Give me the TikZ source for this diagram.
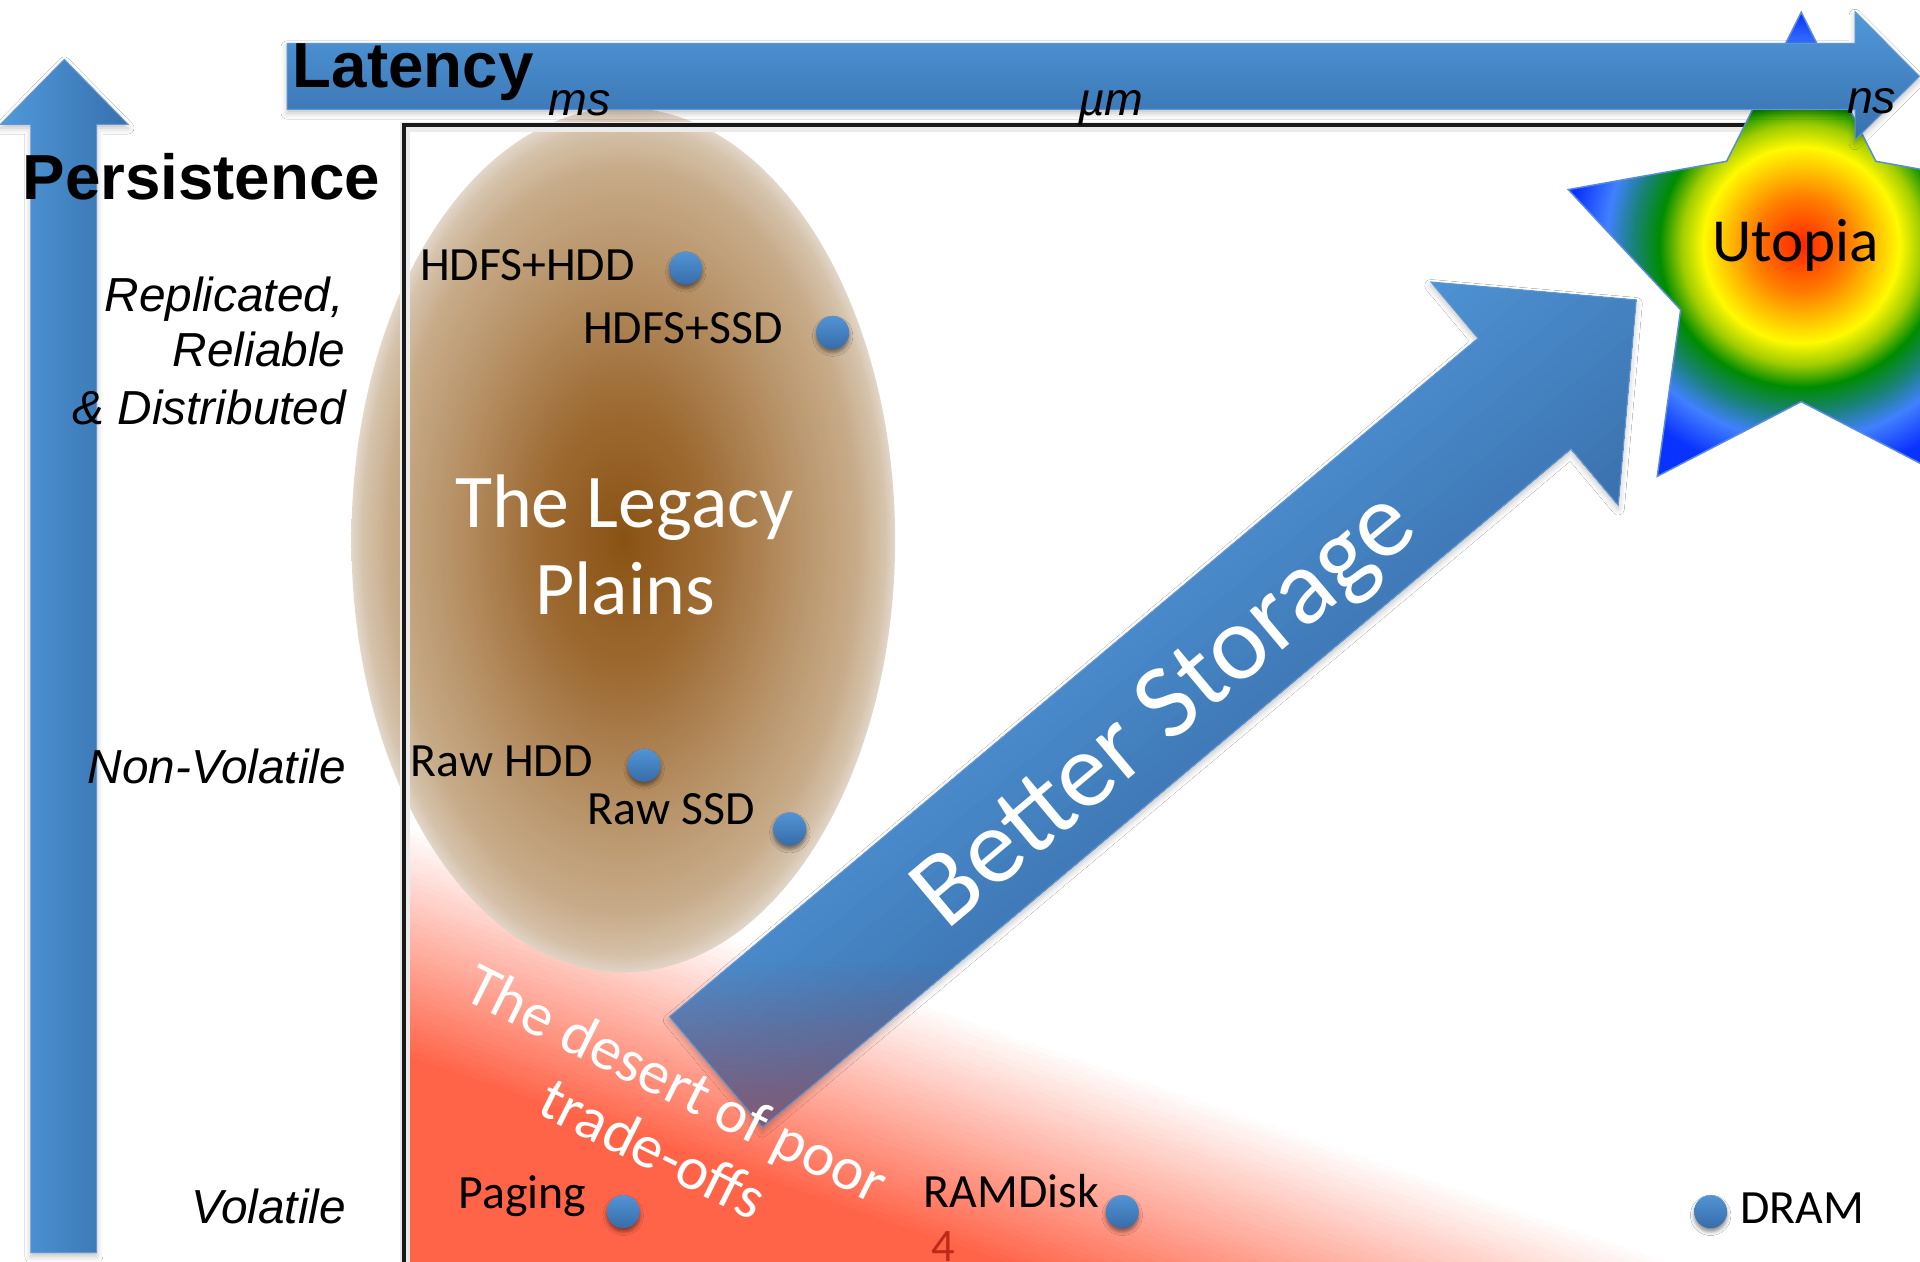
\documentclass[tikz,border=0pt]{standalone}
\usepackage{fontspec}
\setmainfont{Carlito}
\newfontfamily\helv{Liberation Sans}
\usetikzlibrary{fadings,shadows.blur}

% blue shapes
\definecolor{axislight}{RGB}{80,153,219}
\definecolor{axisdark}{RGB}{56,112,173}
\definecolor{axisedge}{RGB}{95,150,212}
\definecolor{bsLight}{RGB}{78,146,212}
\definecolor{bsDark}{RGB}{58,112,172}
\definecolor{bsTail}{RGB}{135,88,112}
\definecolor{dotTop}{RGB}{82,148,214}
\definecolor{dotBot}{RGB}{55,108,168}
% regions
\definecolor{desert}{RGB}{255,100,72}
\definecolor{slidenum}{RGB}{192,40,26}
\definecolor{staredge}{RGB}{90,140,215}
\definecolor{lgA}{RGB}{128,68,0}
\definecolor{lgB}{RGB}{150,95,35}
\definecolor{lgC}{RGB}{178,138,92}
\definecolor{lgD}{RGB}{195,165,128}
\definecolor{lgE}{RGB}{210,190,165}
\definecolor{lgF}{RGB}{224,212,198}
\definecolor{utRed}{RGB}{255,35,0}
\definecolor{utOrange}{RGB}{255,125,0}
\definecolor{utYellow}{RGB}{255,250,0}
\definecolor{utLime}{RGB}{160,205,0}
\definecolor{utGreen}{RGB}{0,140,0}
\definecolor{utTeal}{RGB}{25,130,120}
\definecolor{utSky}{RGB}{65,128,255}
\definecolor{utBlue}{RGB}{10,50,255}

\pgfdeclareradialshading{legacy}{\pgfpoint{0bp}{0bp}}{color(0bp)=(lgA); color(8bp)=(lgB); color(16bp)=(lgC); color(21.5bp)=(lgD); color(24bp)=(lgE); color(25bp)=(lgF); color(50bp)=(lgF)}
\pgfdeclareradialshading{utopia}{\pgfpoint{0bp}{0bp}}{color(0bp)=(utRed); color(3.9bp)=(utOrange); color(8bp)=(utYellow); color(9.8bp)=(utLime); color(11.6bp)=(utGreen); color(13.7bp)=(utTeal); color(15.9bp)=(utSky); color(18.9bp)=(utBlue); color(50bp)=(utBlue)}

\tikzfading[name=tailfade, top color=transparent!100, bottom color=transparent!0]

\tikzset{
  softshadow/.style={blur shadow={shadow xshift=0pt, shadow yshift=-1.5pt, shadow blur radius=2.5pt, shadow opacity=25}},
  dot/.style={circle, minimum size=13.5pt, inner sep=0pt, top color=dotTop, bottom color=dotBot,
    blur shadow={shadow xshift=0pt, shadow yshift=-1.5pt, shadow blur radius=1.5pt, shadow opacity=45}},
  lbl/.style={anchor=base west, inner sep=0pt, font=\fontsize{19.5}{23}\selectfont},
  axlbl/.style={anchor=base east, inner sep=0pt, font=\helv\itshape\fontsize{19.5}{24}\selectfont},
  axtitle/.style={anchor=base west, inner sep=0pt, font=\helv\bfseries\fontsize{26}{30}\selectfont},
  unitlbl/.style={anchor=base west, inner sep=0pt, font=\helv\itshape\fontsize{19}{22}\selectfont},
  whitetxt/.style={anchor=base, inner sep=0pt, text=white},
}

\begin{document}
\begin{tikzpicture}[x=0.5pt, y=-0.5pt]
\useasboundingbox (0,0) rectangle (1568,1030);
\clip (0,0) rectangle (1568,1030);
\fill[white] (0,0) rectangle (1568,1030);

% the desert: red fading to white towards the upper right
\begin{scope}
  \clip (331.5,103) rectangle (1568,1030);
  \begin{scope}[shift={(340,679)}, rotate=-19]
    \foreach \k in {1,...,40}{
      \pgfmathsetmacro\mix{2.5*\k}
      \fill[desert!\mix!white] (-700,4.5*\k-4.5) rectangle (2300,1400);
    }
  \end{scope}
\end{scope}

% the legacy plains
\shade[shading=legacy, opacity=0.92] (509,441) ellipse [x radius=222, y radius=353];

% plot frame
\draw[black!8, line width=4pt] (331,1035) -- (331,104) -- (1440,104);
\draw[black!90, line width=1.5pt] (330,1035) -- (330,102) -- (1440,102);

% persistence axis arrow
\shade[softshadow, left color=axislight, right color=axisdark, draw=axisedge, line width=0.4pt]
  (25.3,1023) -- (25.3,101.5) -- (0.5,101.5) -- (52.5,48.5) -- (104.5,101.5) -- (79,101.5) -- (79,1023) -- cycle;

% utopia star
\begin{scope}
  \clip (1471,10) -- (1410.1,131.7) -- (1280.7,154.8) -- (1372.5,253) -- (1353.4,389) -- (1471,328)
        -- (1588.6,389) -- (1569.5,253) -- (1661.3,154.8) -- (1531.9,131.7) -- cycle;
  \shade[shading=utopia] (1471,200) circle [radius=250];
\end{scope}
\draw[staredge, line width=0.6pt] (1471,10) -- (1410.1,131.7) -- (1280.7,154.8) -- (1372.5,253) -- (1353.4,389) -- (1471,328)
        -- (1588.6,389) -- (1569.5,253) -- (1661.3,154.8) -- (1531.9,131.7) -- cycle;

% latency axis arrow
\shade[softshadow, top color=axislight, bottom color=axisdark, draw=axisedge, line width=0.4pt]
  (234.5,35.4) -- (1515,35.4) -- (1515,9.5) -- (1567.5,62.3) -- (1515,114.3) -- (1515,89.3) -- (234.5,89.3) -- cycle;

% better storage arrow
\begin{scope}[shift={(584.7,875.5)}, rotate=40]
  \path[softshadow] (0,-59) -- (862,-59) -- (862,-119) -- (981,0) -- (862,119) -- (862,59) -- (0,59) -- cycle;
  \begin{scope}
    \clip (0,-59) -- (862,-59) -- (862,-119) -- (981,0) -- (862,119) -- (862,59) -- (0,59) -- cycle;
    \foreach \k in {0,...,24}{
      \pgfmathsetmacro\mix{100*\k/24}
      \fill[bsDark!\mix!bsLight] (-5,-121+10*\k) rectangle (990,125);
    }
  \end{scope}
\end{scope}
\begin{scope}
  \clip[shift={(584.7,875.5)}, rotate=40] (0,-59) -- (862,-59) -- (862,-119) -- (981,0) -- (862,119) -- (862,59) -- (0,59) -- cycle;
  \fill[bsTail, path fading=tailfade] (480,785) rectangle (950,930);
\end{scope}
\draw[shift={(584.7,875.5)}, rotate=40, axisedge, line width=0.4pt]
  (0,-59) -- (862,-59) -- (862,-119) -- (981,0) -- (862,119) -- (862,59) -- (0,59) -- cycle;

% axis titles and scale labels
\node[axtitle] (latency) at (238.7,71.3) {Latency};
\node[axtitle] (persistence) at (18,162.8) {Persistence};
\node[unitlbl] (ms) at (447.7,94) {ms};
\node[unitlbl] (um) at (880,94) {µm};
\node[unitlbl] (ns) at (1508,92.5) {ns};

\node[axlbl] (repl) at (281,254.6) {Replicated,};
\node[axlbl] (reli) at (282.5,299.7) {Reliable};
\node[axlbl] (dist) at (283,347) {\& Distributed};
\node[axlbl] (nonvol) at (283,640) {Non-Volatile};
\node[axlbl] (vol) at (283,999) {Volatile};

% region captions
\node[whitetxt, font=\fontsize{31}{35}\selectfont] (legacy1) at (510,431) {The Legacy};
\node[whitetxt, font=\fontsize{31}{35}\selectfont] (legacy2) at (510.5,501.6) {Plains};
\node[whitetxt, rotate=-26.5, font=\fontsize{25}{28}\selectfont] (desert1) at (545.4,899.7) {The desert of poor};
\node[whitetxt, rotate=-26.5, font=\fontsize{25}{28}\selectfont] (desert2) at (526,953) {trade-offs};
\node[whitetxt, rotate=40, font=\fontsize{43.5}{48}\selectfont] (better) at (967,598) {Better Storage};
\node[anchor=base, inner sep=0pt, font=\fontsize{25}{30}\selectfont] (utopia) at (1466.5,213.7) {Utopia};

% storage technologies
\node[dot] (hdfshdd) at (560,219) {};
\node[dot] (hdfsssd) at (680,271.5) {};
\node[dot] (rawhdd) at (526,625) {};
\node[dot] (rawssd) at (645,677) {};
\node[dot] (paging) at (509,989.5) {};
\node[dot] (ramdisk) at (916.5,989.5) {};
\node[dot] (dram) at (1397,989.5) {};

\node[lbl] (hdfshddL) at (342.7,228.7) {HDFS+HDD};
\node[lbl] (hdfsssdL) at (475.8,280.2) {HDFS+SSD};
\node[lbl] (rawhddL) at (335,633.8) {Raw HDD};
\node[lbl] (rawssdL) at (479.7,673) {Raw SSD};
\node[lbl] (pagingL) at (374,987) {Paging};
\node[lbl] (ramdiskL) at (754,986.5) {RAMDisk};
\node[lbl] (dramL) at (1421,999) {DRAM};

\node[anchor=base, inner sep=0pt, text=slidenum, font=\fontsize{19}{22}\selectfont] (pagenum) at (770.5,1030) {4};
\end{tikzpicture}
\end{document}
